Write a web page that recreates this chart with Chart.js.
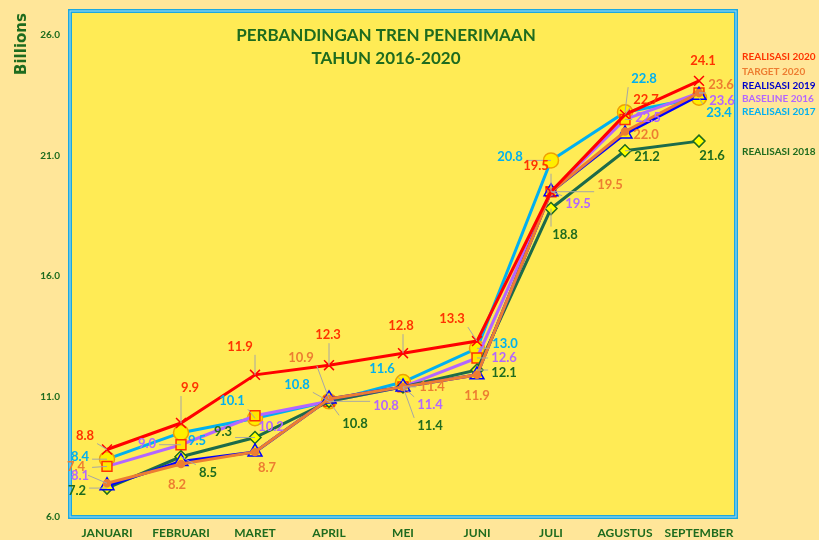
<!DOCTYPE html>
<html>
<head>
<meta charset="utf-8">
<script src="https://cdn.jsdelivr.net/npm/chart.js@4"></script>
<style>
  body { margin: 0; background: #FFE699; }
  #wrap { width: 819px; height: 540px; }
</style>
</head>
<body>
<div id="wrap"><canvas id="chart" width="819" height="540"></canvas></div>
<script>
// data
const months = ["JANUARI", "FEBRUARI", "MARET", "APRIL", "MEI", "JUNI", "JULI", "AGUSTUS", "SEPTEMBER"];
const realisasi2020 = [8.8, 9.9, 11.9, 12.3, 12.8, 13.3, 19.5, 22.7, 24.1];
const target2020 = [7.4, 8.2, 8.7, 10.9, 11.4, 11.9, 19.5, 22.0, 23.6];
const realisasi2019 = [7.3, 8.3, 8.7, 10.9, 11.4, 11.9, 19.5, 21.9, 23.5];
const baseline2016 = [8.1, 9.0, 10.2, 10.8, 11.4, 12.6, 19.5, 22.5, 23.6];
const realisasi2017 = [8.4, 9.5, 10.1, 10.8, 11.6, 13.0, 20.8, 22.8, 23.4];
const realisasi2018 = [7.2, 8.5, 9.3, 10.8, 11.4, 12.1, 18.8, 21.2, 21.6];
const yTicks = [6, 11, 16, 21, 26];

// where each value label sits relative to its point (px)
const labelOffsets = {
  r2020: [[-22, -14], [9, -35], [-15, -28], [-1, -30], [-2, -27], [-25, -22], [-15, -26], [21, -15], [4, -20]],
  t2020: [[-31, -16], [-4, 21], [12, 16], [-28, -41], [29, 0], [0, 21], [59, -7], [21, 3], [22, -8]],
  b2016: [[-27, 9], [-34, -1], [16, 11], [57, 4], [27, 18], [27, 0], [27, 12], [23, -2], [23, 8]],
  r2017: [[-27, -2], [16, 8], [-23, -17], [-32, -17], [-21, -13], [28, -5], [-41, -4], [19, -33], [20, 15]],
  r2018: [[-30, 3], [27, 16], [-32, -6], [26, 22], [27, 39], [27, 3], [14, 26], [22, 6], [13, 15]]
};

const GREEN = "#1E6B1E";
const FONT = "Lato, 'Open Sans', sans-serif";

const series = [
  { key: "r2020", label: "REALISASI 2020", data: realisasi2020, color: "#FF0000", text: "#FF3300",
    style: "crossRot", radius: 7, fill: "#FF0000", border: "#FF0000", order: 0 },
  { key: "t2020", label: "TARGET 2020", data: target2020, color: "#ED7D31", text: "#ED7D31",
    style: "circle", radius: 3.5, fill: "#ED7D31", border: "#ED7D31", order: 1 },
  { key: "r2019", label: "REALISASI 2019", data: realisasi2019, color: "#0000FF", text: "#0000CC",
    style: "triangle", radius: 8, fill: "#FFF200", border: "#0000FF", order: 2 },
  { key: "r2018", label: "REALISASI 2018", data: realisasi2018, color: "#1C6B4A", text: GREEN,
    style: "rectRot", radius: 6, fill: "#FFFF00", border: GREEN, order: 3 },
  { key: "b2016", label: "BASELINE 2016", data: baseline2016, color: "#B366FF", text: "#B366FF",
    style: "rect", radius: 7, fill: "#FFE600", border: "#FF3300", order: 4 },
  { key: "r2017", label: "REALISASI 2017", data: realisasi2017, color: "#00B0F0", text: "#00B0F0",
    style: "circle", radius: 7.5, fill: "#FFEF00", border: "#F0A000", order: 5 }
];

// side labels (text, colour, y)
const sideLabels = [
  ["REALISASI 2020", "#FF3300", 57],
  ["TARGET 2020", "#ED7D31", 72],
  ["REALISASI 2019", "#0000CC", 86],
  ["BASELINE 2016", "#B366FF", 99],
  ["REALISASI 2017", "#00B0F0", 112],
  ["REALISASI 2018", GREEN, 152]
];

const decorPlugin = {
  id: "decor",
  beforeDraw(chart) {
    const { ctx, chartArea: a } = chart;
    ctx.save();
    ctx.fillStyle = "#FFE699";
    ctx.fillRect(0, 0, chart.width, chart.height);
    ctx.fillStyle = "#FFEB55";
    ctx.fillRect(a.left, a.top, a.right - a.left, a.bottom - a.top);
    ctx.restore();
  },
  afterDatasetsDraw(chart) {
    const { ctx, chartArea: a } = chart;
    ctx.save();
    // plot border
    ctx.strokeStyle = "#1BA8E0";
    ctx.lineWidth = 4;
    ctx.strokeRect(a.left, a.top, a.right - a.left, a.bottom - a.top);
    ctx.strokeStyle = "#A8DDF2";
    ctx.lineWidth = 1;
    ctx.strokeRect(a.left, a.top, a.right - a.left, a.bottom - a.top);

    // value labels
    ctx.font = "bold 13px " + FONT;
    ctx.textAlign = "center";
    ctx.textBaseline = "middle";
    chart.data.datasets.forEach((ds, i) => {
      const offs = labelOffsets[ds.key];
      if (!offs) return;
      const meta = chart.getDatasetMeta(i);
      meta.data.forEach((pt, j) => {
        const [dx, dy] = offs[j];
        const lx = pt.x + dx, ly = pt.y + dy;
        const txt = ds.data[j].toFixed(1);
        const w = ctx.measureText(txt).width;
        if (Math.hypot(dx, dy) > 22) {
          const ex = Math.min(Math.max(pt.x, lx - w / 2 - 3), lx + w / 2 + 3);
          const ey = Math.min(Math.max(pt.y, ly - 8), ly + 8);
          ctx.strokeStyle = "#A6A6A6";
          ctx.lineWidth = 1;
          ctx.beginPath();
          ctx.moveTo(ex, ey);
          ctx.lineTo(pt.x, pt.y);
          ctx.stroke();
        }
      });
    });
    chart.data.datasets.forEach((ds, i) => {
      const offs = labelOffsets[ds.key];
      if (!offs) return;
      const meta = chart.getDatasetMeta(i);
      ctx.fillStyle = ds.textColor;
      meta.data.forEach((pt, j) => {
        const [dx, dy] = offs[j];
        ctx.fillText(ds.data[j].toFixed(1), pt.x + dx, pt.y + dy);
      });
    });

    // title
    ctx.fillStyle = GREEN;
    ctx.font = "bold 17px " + FONT;
    ctx.fillText("PERBANDINGAN TREN PENERIMAAN", 386, 36);
    ctx.fillText("TAHUN 2016-2020", 386, 59);

    // side labels
    ctx.textAlign = "left";
    ctx.font = "bold 10px " + FONT;
    sideLabels.forEach(([t, c, y]) => {
      ctx.fillStyle = c;
      ctx.fillText(t, a.right + 6, y);
    });

    // axis unit
    ctx.translate(22, 44);
    ctx.rotate(-Math.PI / 2);
    ctx.textAlign = "center";
    ctx.fillStyle = GREEN;
    ctx.font = "bold 15px 'DejaVu Sans', sans-serif";
    ctx.fillText("Billions", 0, 0);
    ctx.restore();
  }
};

new Chart(document.getElementById("chart"), {
  type: "line",
  data: {
    labels: months,
    datasets: series.map(s => ({
      key: s.key,
      label: s.label,
      data: s.data,
      textColor: s.text,
      borderColor: s.color,
      borderWidth: 3,
      tension: 0,
      pointStyle: s.style,
      pointRadius: s.radius,
      pointBackgroundColor: s.fill,
      pointBorderColor: s.border,
      pointBorderWidth: 1.5,
      order: s.order
    }))
  },
  options: {
    responsive: false,
    animation: false,
    layout: { padding: { top: 11, right: 83, left: 0, bottom: 0 } },
    scales: {
      x: {
        offset: true,
        grid: { display: false, drawTicks: false },
        border: { display: false },
        ticks: { color: GREEN, font: { family: FONT, size: 12, weight: "bold" }, padding: 9, maxRotation: 0, autoSkip: false },
        afterFit(s) { s.height = 23; }
      },
      y: {
        min: 6,
        max: 27,
        grid: { display: false, drawTicks: false },
        border: { display: false },
        afterBuildTicks(s) { s.ticks = yTicks.map(v => ({ value: v })); },
        ticks: {
          color: GREEN,
          font: { family: FONT, size: 10, weight: "bold" },
          padding: 10,
          callback: v => Number(v).toFixed(1)
        },
        afterFit(s) { s.width = 70; s.paddingTop = 0; s.paddingBottom = 0; }
      }
    },
    plugins: {
      legend: { display: false },
      tooltip: { enabled: false }
    }
  },
  plugins: [decorPlugin]
});
</script>
</body>
</html>
